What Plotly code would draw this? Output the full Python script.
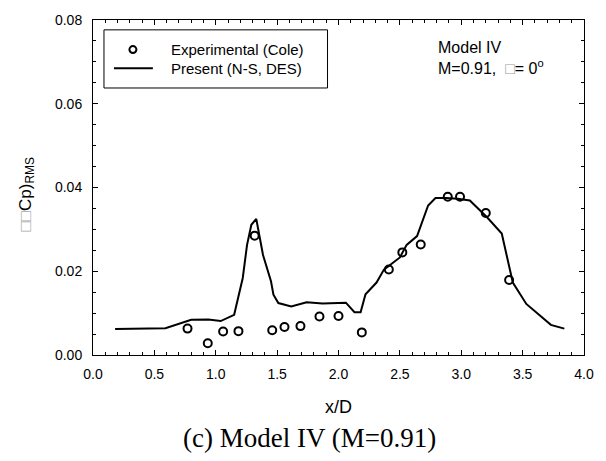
import plotly.graph_objects as go

# Experimental (Cole)
exp_x = [0.77, 0.935, 1.06, 1.185, 1.317, 1.46, 1.56, 1.69, 1.845, 2.0, 2.19, 2.41, 2.52, 2.67, 2.89, 2.99, 3.20, 3.39]
exp_y = [0.0063, 0.0028, 0.0056, 0.0057, 0.0285, 0.0059, 0.0067, 0.0069, 0.0092, 0.0093, 0.0054, 0.0204, 0.0245, 0.0264, 0.0378, 0.0378, 0.0339, 0.0179]

# Present (N-S, DES)
des_x = [0.18, 0.59, 0.80, 0.94, 1.04, 1.15, 1.22, 1.255, 1.29, 1.33, 1.385, 1.45, 1.47, 1.51, 1.615, 1.74, 1.87, 2.06, 2.13, 2.18, 2.22, 2.31, 2.37, 2.50, 2.555, 2.64, 2.73, 2.79, 2.875, 2.97, 3.07, 3.21, 3.33, 3.42, 3.53, 3.73, 3.84]
des_y = [0.0062, 0.0064, 0.0084, 0.0085, 0.0081, 0.0096, 0.0184, 0.0263, 0.0311, 0.0325, 0.0239, 0.0176, 0.0144, 0.0124, 0.0116, 0.0126, 0.0123, 0.0125, 0.0102, 0.0102, 0.0145, 0.0173, 0.0204, 0.0233, 0.0263, 0.0284, 0.0357, 0.0375, 0.0375, 0.0373, 0.0369, 0.0329, 0.0290, 0.0173, 0.0122, 0.0072, 0.0063]

x_ticks = [0.0, 0.5, 1.0, 1.5, 2.0, 2.5, 3.0, 3.5, 4.0]
y_ticks = [0.00, 0.02, 0.04, 0.06, 0.08]
legend_names = ["Experimental (Cole)", "Present (N-S, DES)"]

W, H = 606, 461
L, R, T, B = 93, 21, 15, 106
pw, ph = W - L - R, H - T - B

def px(x):
    return (x - L) / pw

def py(y):
    return (H - B - y) / ph

fig = go.Figure()
fig.add_trace(go.Scatter(
    x=exp_x, y=exp_y, mode="markers", name=legend_names[0],
    marker=dict(symbol="circle", size=8, color="white", line=dict(color="black", width=2)),
))
fig.add_trace(go.Scatter(
    x=des_x, y=des_y, mode="lines", name=legend_names[1],
    line=dict(color="black", width=2),
))

axis_common = dict(
    showline=True, linecolor="black", linewidth=1, mirror="allticks",
    ticks="inside", ticklen=5, tickcolor="black", tickwidth=1,
    showgrid=False, zeroline=False,
    tickfont=dict(family="Liberation Sans, Arial", size=14, color="black"),
)

fig.update_xaxes(
    range=[0, 4.0], tickvals=x_ticks, tickformat=".1f", ticklabelstandoff=6,
    minor=dict(dtick=0.1, ticks="inside", ticklen=3, tickcolor="black"),
    **axis_common,
)
fig.update_yaxes(
    range=[0, 0.08], tickvals=y_ticks, tickformat=".2f", ticklabelstandoff=7,
    minor=dict(dtick=0.005, ticks="inside", ticklen=3, tickcolor="black"),
    **axis_common,
)

# legend box drawn in paper space
row_y = [45, 64]
shapes = [
    dict(type="rect", xref="paper", yref="paper",
         x0=px(104), x1=px(328), y0=py(25), y1=py(84),
         line=dict(color="black", width=1), fillcolor="white", layer="above"),
    dict(type="line", xref="paper", yref="paper",
         x0=px(114), x1=px(153), y0=py(row_y[1]), y1=py(row_y[1]),
         line=dict(color="black", width=2), layer="above"),
    dict(type="circle", xref="paper", yref="paper",
         x0=px(129.5), x1=px(136.5), y0=py(row_y[0] - 3.5), y1=py(row_y[0] + 3.5),
         line=dict(color="black", width=2), fillcolor="white", layer="above"),
]

legend_ann = [
    dict(text=name, xref="paper", yref="paper", x=px(169), y=py(yy),
         xanchor="left", yanchor="middle", showarrow=False,
         font=dict(family="Liberation Sans, Arial", size=15, color="black"))
    for name, yy in zip(legend_names, row_y)
]

fig.update_layout(
    width=W, height=H,
    margin=dict(l=L, r=R, t=T, b=B),
    paper_bgcolor="white", plot_bgcolor="white",
    showlegend=False,
    shapes=shapes,
    annotations=legend_ann + [
        dict(
            text="<span style='color:#aaaaaa'>\u25A1\u25A1</span>Cp)<sub>RMS</sub>",
            xref="paper", yref="paper", x=px(27), y=py(192), xanchor="center", yanchor="middle",
            textangle=-90, showarrow=False,
            font=dict(family="Liberation Sans, Arial", size=17, color="black"),
        ),
        dict(
            text="x/D",
            xref="paper", yref="paper", x=0.5, y=py(408), xanchor="center", yanchor="middle",
            showarrow=False,
            font=dict(family="Liberation Sans, Arial", size=18, color="black"),
        ),
        dict(
            text="Model IV<br>M=0.91,  <span style='color:#999999'>\u25A1</span>= 0<sup>o</sup>",
            xref="paper", yref="paper", x=px(437), y=py(32), xanchor="left", yanchor="top",
            showarrow=False, align="left",
            font=dict(family="Liberation Sans, Arial", size=16, color="black"),
        ),
        dict(
            text="(c) Model IV (M=0.91)",
            xref="paper", yref="paper", x=px(310), y=py(439), xanchor="center", yanchor="middle",
            showarrow=False,
            font=dict(family="Liberation Serif, Times New Roman", size=27, color="black"),
        ),
    ],
)

fig.write_html("out.html")
